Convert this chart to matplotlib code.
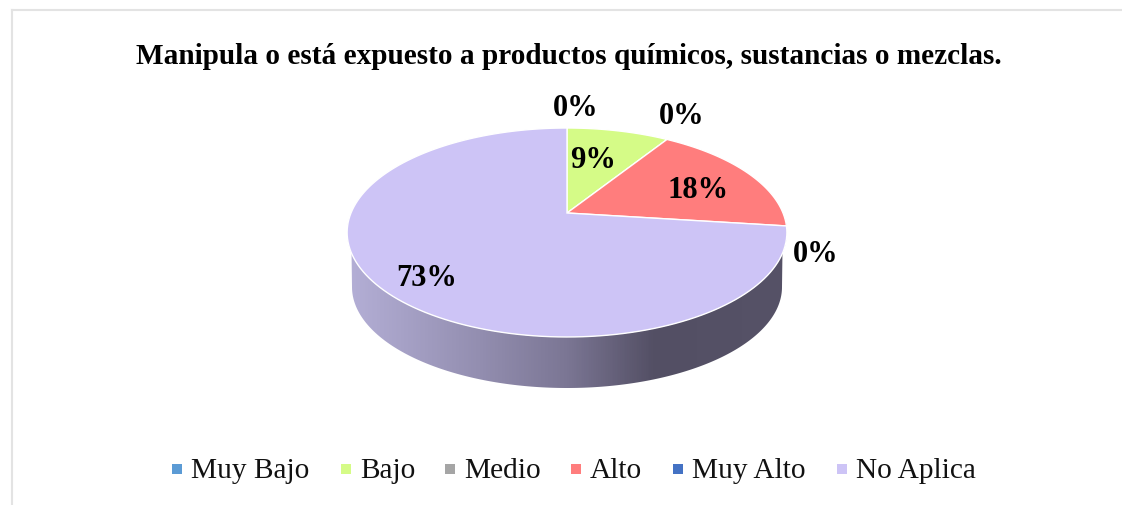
import numpy as np
import matplotlib
matplotlib.use("Agg")
import matplotlib.pyplot as plt
from matplotlib.colors import LinearSegmentedColormap
from matplotlib.patches import Polygon, Rectangle

# chart data
categories = ["Muy Bajo", "Bajo", "Medio", "Alto", "Muy Alto", "No Aplica"]
values = [0, 9, 0, 18, 0, 73]
colors = ["#5b9bd5", "#d5fb87", "#a5a5a5", "#ff7d7d", "#4472c4", "#cdc4f6"]
title = "Manipula o está expuesto a productos químicos, sustancias o mezclas."

plt.rcParams["font.family"] = ["Liberation Serif", "DejaVu Serif"]

fig = plt.figure(figsize=(11.22, 5.05), dpi=100)
ax = fig.add_axes([0, 0, 1, 1])
ax.set_xlim(0, 1122)
ax.set_ylim(505, 0)
ax.axis("off")

# perspective of the pie top, apex sits above the middle of the ellipse
cx, cy = 567, 213
k = -0.1866
a = 61.1
rx = 216


def top_xy(pct, r=1.0):
    ang = np.radians(np.asarray(pct) * 3.6)
    u = np.sin(ang) * r
    v = -np.cos(ang) * r
    d = 1 + k * v
    return cx + rx * u / d, (a * v + cy) / d


# side wall with horizontal gradient
t = np.linspace(25, 75, 300)
tx, ty = top_xy(t)
bx = 567 + 215 * np.cos(np.radians(np.linspace(180, 0, 300)))
by = 287 + 101 * np.sin(np.radians(np.linspace(180, 0, 300)))
side = Polygon(np.vstack([np.column_stack([bx, by]), np.column_stack([tx, ty])]),
               closed=True, facecolor="none", edgecolor="none")
ax.add_patch(side)
cmap = LinearSegmentedColormap.from_list(
    "side", [(0, "#b4afd6"), (0.3, "#938eb0"), (0.5, "#7b7694"), (0.7, "#534f64"), (1, "#565267")])
img = ax.imshow(np.linspace(0, 1, 440).reshape(1, -1), cmap=cmap, extent=[347, 787, 395, 220],
                aspect="auto", zorder=1)
img.set_clip_path(side)
ax.set_xlim(0, 1122)
ax.set_ylim(505, 0)

# top slices
start = 0
for val, col in zip(values, colors):
    if val > 0:
        px, py = top_xy(np.linspace(start, start + val, 150))
        pts = np.vstack([[cx, cy], np.column_stack([px, py])])
        ax.add_patch(Polygon(pts, closed=True, facecolor=col, edgecolor="white", linewidth=1, zorder=2))
    start += val

# value labels, in the order of the categories
label_pos = [(576, 108), (593, 160), (682, 117), (698, 191), (816, 255), (427, 278)]
for (lx, ly), val in zip(label_pos, values):
    ax.text(lx, ly, f"{val}%", fontsize=22, fontweight="bold", ha="center", va="center", zorder=3)

ax.text(569, 57, title, fontsize=21.1, fontweight="bold", ha="center", va="center")

# legend
legend_x = [172, 341, 445, 571, 673, 837]
for lx, name, col in zip(legend_x, categories, colors):
    ax.add_patch(Rectangle((lx, 464), 10, 10, facecolor=col, edgecolor="none"))
    ax.text(lx + 19, 471.5, name, fontsize=21.2, ha="left", va="center", color="#111111")

# chart frame
ax.plot([12, 12], [505, 10], color="#e3e3e3", linewidth=1.5)
ax.plot([12, 1122], [10, 10], color="#e3e3e3", linewidth=1.5)

fig.savefig("out.png", dpi=100)
